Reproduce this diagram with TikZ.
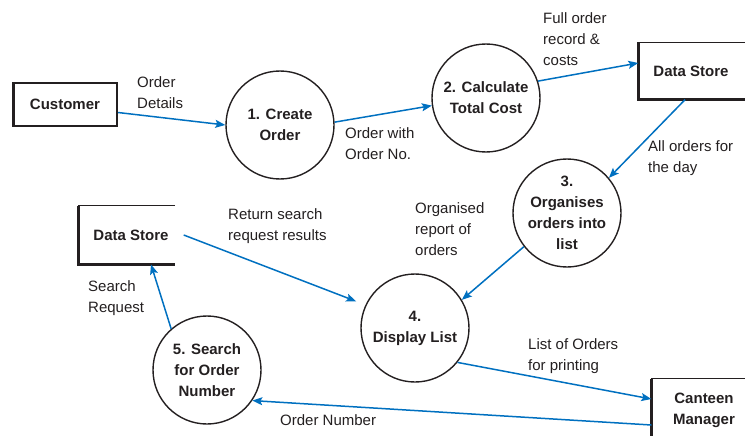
\documentclass[tikz,border=0pt]{standalone}
\usepackage{fontspec}
\setmainfont{Liberation Sans}
\usetikzlibrary{arrows.meta}
\definecolor{flowblue}{RGB}{0,112,192}
\definecolor{ink}{RGB}{35,31,32}

\begin{document}
\begin{tikzpicture}[x=1pt, y=-1pt,
    every node/.style={text=ink, font=\fontsize{15}{21}\selectfont},
    process/.style={circle, draw=ink, line width=1.4pt, minimum size=108pt, inner sep=0pt, align=center, font=\fontsize{15}{21}\selectfont\bfseries},
    entity/.style={draw=ink, line width=2.5pt, inner sep=0pt, align=center, font=\fontsize{15}{21}\selectfont\bfseries},
    store/.style={inner sep=0pt, minimum width=105pt, align=center, font=\fontsize{15}{21}\selectfont\bfseries},
    thinedge/.style={draw=ink, line width=1.3pt},
    thickedge/.style={draw=ink, line width=2.6pt},
    flow/.style={draw=flowblue, line width=1.5pt, -{Stealth[length=10pt, width=8pt, inset=2pt]}},
    lbl/.style={anchor=north west, inner sep=0pt, align=left}]
    \useasboundingbox (0,0) rectangle (745,436);

    % external entities and stores
    \node[entity, minimum width=103.5pt, minimum height=42.5pt] (cust) at (65,104.5) {Customer};
    \node[store, minimum height=57pt] (ds1) at (691,71) {Data Store};
    \node[store, minimum height=58.5pt] (ds2) at (131,235) {Data Store};
    \node[store, minimum height=62pt] (cm) at (704,410) {Canteen\\Manager};

    \draw[thinedge] ([xshift=10pt]ds1.north east) -- (ds1.north west);
    \draw[thickedge] (ds1.north west) -- (ds1.south west) -- ([xshift=10pt]ds1.south east);
    \draw[thinedge] ([xshift=-8.5pt]ds2.north east) -- (ds2.north west);
    \draw[thickedge] (ds2.north west) -- (ds2.south west) -- ([xshift=-8.5pt]ds2.south east);
    \draw[thinedge] ([xshift=10pt]cm.north east) -- (cm.north west);
    \draw[thickedge] (cm.north west) -- (cm.south west);

    % processes
    \node[process] (p1) at (280,125) {1. Create\\Order};
    \node[process] (p2) at (486,98) {2. Calculate\\Total Cost};
    \node[process] (p3) at (567,213) {3.\\Organises\\orders into\\list};
    \node[process] (p4) at (415,328) {4.\\Display List};
    \node[process] (p5) at (207,370) {5. Search\\for Order\\Number};

    % data flows
    \draw[flow] ([yshift=-8pt]cust.east) -- (p1.west);
    \draw[flow] (p1.3) -- (p2.188);
    \draw[flow] (p2.18) -- ([yshift=8pt]ds1.west);
    \draw[flow] ([xshift=-6pt]ds1.south) -- (p3.40);
    \draw[flow] (p3.218) -- (p4.31);
    \draw[flow, shorten >=10pt] (ds2.east) -- (p4.155);
    \draw[flow] (p5.131) -- ([xshift=20pt]ds2.south);
    \draw[flow] (p4.-39) -- ([yshift=11pt]cm.west);
    \draw[flow] ([yshift=-15pt]cm.west) -- (p5.-34);

    % flow labels
    \node[lbl] (l1) at (137,76) {Order\\Details};
    \node[lbl] (l2) at (543,12) {Full order\\record \&\\costs};
    \node[lbl] (l3) at (345,127) {Order with\\Order No.};
    \node[lbl] (l4) at (648,140) {All orders for\\the day};
    \node[lbl] (l5) at (415,202) {Organised\\report of\\orders};
    \node[lbl] (l6) at (228,208) {Return search\\request results};
    \node[lbl] (l7) at (88,280) {Search\\Request};
    \node[lbl] (l8) at (528,338) {List of Orders\\for printing};
    \node[lbl] (l9) at (280,414) {Order Number};
\end{tikzpicture}
\end{document}
